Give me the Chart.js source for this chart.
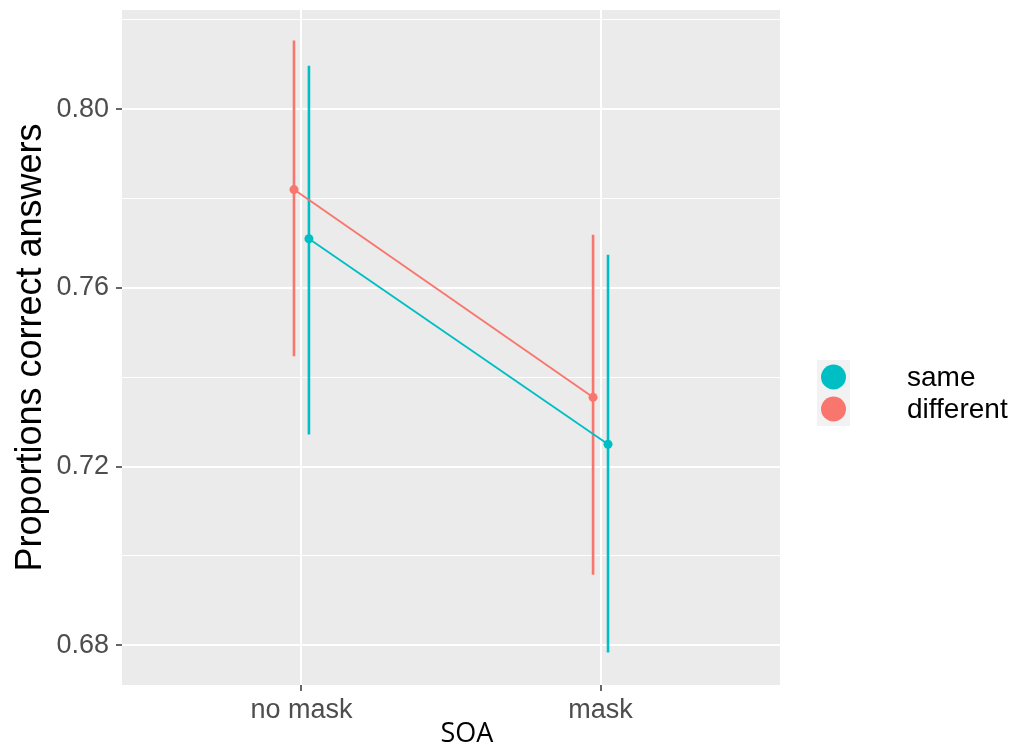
<!DOCTYPE html>
<html>
<head>
<meta charset="utf-8">
<script src="https://cdn.jsdelivr.net/npm/chart.js@4/dist/chart.umd.min.js"></script>
<style>
  html, body { margin: 0; padding: 0; background: #ffffff; }
  #wrap { width: 1016px; height: 745px; }
</style>
</head>
<body>
<div id="wrap"><canvas id="c" width="1016" height="745"></canvas></div>
<script>
// Categories on the x axis (SOA condition)
const categories = ['no mask', 'mask'];

// Group names, legend order
const groups = ['same', 'different'];

// Proportion of correct answers: means and interval bounds per category
const sameMean = [0.771, 0.725];
const sameLower = [0.7272, 0.6784];
const sameUpper = [0.8097, 0.7674];

const differentMean = [0.782, 0.7355];
const differentLower = [0.7447, 0.6958];
const differentUpper = [0.8154, 0.7719];

// Y grid positions and which of them carry a label
const yGrid = [0.68, 0.70, 0.72, 0.74, 0.76, 0.78, 0.80, 0.82];
const yTickLabels = ['0.68', '0.72', '0.76', '0.80'];

const COLORS = { same: '#00BFC4', different: '#F8766D' };
const DODGE = { different: -0.025, same: 0.025 };

const series = {
  same: { mean: sameMean, lower: sameLower, upper: sameUpper },
  different: { mean: differentMean, lower: differentLower, upper: differentUpper }
};

const isLabelled = v => yTickLabels.some(t => Math.abs(parseFloat(t) - v) < 1e-6);

// Build datasets: one vertical segment per interval, one line with points per group
const datasets = [];
['different', 'same'].forEach(g => {
  const s = series[g];
  categories.forEach((cat, i) => {
    datasets.push({
      label: g + ' interval ' + cat,
      data: [{ x: i + 1 + DODGE[g], y: s.lower[i] }, { x: i + 1 + DODGE[g], y: s.upper[i] }],
      borderColor: COLORS[g],
      borderWidth: 2.6,
      pointRadius: 0,
      fill: false,
      order: 3
    });
  });
});
['different', 'same'].forEach(g => {
  const s = series[g];
  datasets.push({
    label: g,
    data: categories.map((cat, i) => ({ x: i + 1 + DODGE[g], y: s.mean[i] })),
    borderColor: COLORS[g],
    backgroundColor: COLORS[g],
    borderWidth: 1.9,
    pointRadius: 4.5,
    pointBorderWidth: 0,
    pointBackgroundColor: COLORS[g],
    fill: false,
    order: 1
  });
});

// Grey panel, axis titles and the legend
const decor = {
  id: 'decor',
  beforeDraw(chart) {
    const { ctx, chartArea: a } = chart;
    ctx.save();
    ctx.fillStyle = '#EBEBEB';
    ctx.fillRect(a.left, a.top, a.right - a.left, a.bottom - a.top);
    ctx.restore();
  },
  afterDraw(chart) {
    const { ctx, chartArea: a } = chart;
    ctx.save();
    // y title
    ctx.fillStyle = '#000000';
    ctx.font = '36px "Liberation Sans", Arial, sans-serif';
    ctx.textAlign = 'center';
    ctx.textBaseline = 'alphabetic';
    ctx.translate(41, (a.top + a.bottom) / 2);
    ctx.rotate(-Math.PI / 2);
    ctx.fillText('Proportions correct answers', 0, 0);
    ctx.restore();

    ctx.save();
    // x title
    ctx.fillStyle = '#000000';
    ctx.font = '27px "Open Sans", sans-serif';
    ctx.textAlign = 'center';
    ctx.textBaseline = 'alphabetic';
    ctx.fillText('SOA', 467, 742);

    // legend
    ctx.fillStyle = '#F2F2F2';
    ctx.fillRect(817, 360, 33, 66);
    const keyY = [377, 409];
    groups.forEach((g, i) => {
      ctx.beginPath();
      ctx.fillStyle = COLORS[g];
      ctx.arc(833.5, keyY[i], 12.5, 0, Math.PI * 2);
      ctx.fill();
      ctx.fillStyle = '#000000';
      ctx.font = '28px "Liberation Sans", Arial, sans-serif';
      ctx.textAlign = 'left';
      ctx.textBaseline = 'middle';
      ctx.fillText(g, 907, keyY[i] + 1);
    });
    ctx.restore();
  }
};

new Chart(document.getElementById('c'), {
  type: 'line',
  data: { datasets },
  plugins: [decor],
  options: {
    responsive: false,
    animation: false,
    events: [],
    layout: { padding: { left: 0, top: 10, right: 236, bottom: 0 } },
    plugins: { legend: { display: false }, tooltip: { enabled: false } },
    scales: {
      x: {
        type: 'linear',
        min: 0.4,
        max: 2.6,
        afterBuildTicks: s => { s.ticks = categories.map((c, i) => ({ value: i + 1 })); },
        afterFit: s => { s.height = 60; s.paddingLeft = 0; s.paddingRight = 0; },
        border: { display: false },
        grid: { color: '#FFFFFF', lineWidth: 2, tickLength: 6, tickColor: '#333333', tickWidth: 1.5 },
        ticks: {
          autoSkip: false,
          maxRotation: 0,
          padding: 3,
          color: '#4D4D4D',
          font: { family: '"Liberation Sans", Arial, sans-serif', size: 27 },
          callback: v => categories[Math.round(v) - 1]
        }
      },
      y: {
        type: 'linear',
        min: 0.6711,
        max: 0.8222,
        afterBuildTicks: s => { s.ticks = yGrid.map(v => ({ value: v })); },
        afterFit: s => { s.width = 122; s.paddingTop = 0; s.paddingBottom = 0; },
        border: { display: false },
        grid: {
          color: '#FFFFFF',
          lineWidth: c => (c.tick && isLabelled(c.tick.value)) ? 2 : 1,
          tickLength: 6,
          tickColor: c => (c.tick && isLabelled(c.tick.value)) ? '#333333' : 'rgba(0,0,0,0)',
          tickWidth: 1.5
        },
        ticks: {
          autoSkip: false,
          padding: 7,
          color: '#4D4D4D',
          font: { family: '"Liberation Sans", Arial, sans-serif', size: 27 },
          callback: v => isLabelled(v) ? v.toFixed(2) : ''
        }
      }
    }
  }
});
</script>
</body>
</html>
